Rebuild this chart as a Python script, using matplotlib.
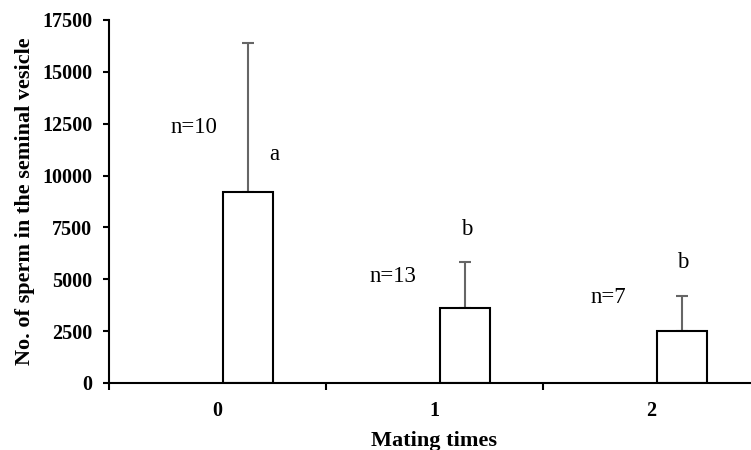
import matplotlib
matplotlib.use("Agg")
import matplotlib.pyplot as plt
import numpy as np

categories = ["0", "1", "2"]
means = [9200, 3600, 2500]
err_up = [7200, 2230, 1710]
n_labels = ["n=10", "n=13", "n=7"]
n_pos = [(-0.11, 12300), (0.81, 5110), (1.80, 4100)]
letters = ["a", "b", "b"]
letter_pos = [(0.26, 11000), (1.15, 7420), (2.145, 5830)]
yticks = [0, 2500, 5000, 7500, 10000, 12500, 15000, 17500]

plt.rcParams['font.family'] = ['Liberation Serif', 'DejaVu Serif']

fig = plt.figure(figsize=(7.51, 4.5), dpi=100)
ax = fig.add_axes([0.1451, 0.1489, 0.8668, 0.8067])

x = np.arange(len(categories))
offset = 0.14
width = 0.23
ax.bar(x + offset, means, width=width, color="white", edgecolor="black", linewidth=1.5, zorder=2)
ax.errorbar(x + offset, means, yerr=[np.zeros(len(means)), err_up], fmt="none",
            ecolor="#666666", elinewidth=1.5, capsize=4, capthick=1.5, zorder=1)

for (tx, ty), s in zip(n_pos, n_labels):
    ax.text(tx, ty, s, ha="center", va="center", fontsize=16.5)
for (tx, ty), s in zip(letter_pos, letters):
    ax.text(tx, ty, s, ha="center", va="center", fontsize=16.5)

ax.set_xlim(-0.5, 2.5)
ax.set_ylim(0, 17500)
ax.set_yticks(yticks)
ax.set_yticklabels([str(v) for v in yticks], fontsize=14.5, fontweight="bold")
ax.set_xticks(x)
ax.set_xticklabels(categories, fontsize=14.5, fontweight="bold")
ax.set_xticks([-0.5, 0.5, 1.5, 2.5], minor=True)
ax.tick_params(axis="x", which="major", length=0, pad=13)
ax.tick_params(axis="x", which="minor", length=5, width=1.5, direction="out")
ax.tick_params(axis="y", length=4, width=1.5, pad=8)

for s in ["top", "right"]:
    ax.spines[s].set_visible(False)
for s in ["left", "bottom"]:
    ax.spines[s].set_linewidth(1.5)

ax.set_ylabel("No. of sperm in the seminal vesicle", fontsize=16, fontweight="bold", labelpad=5)
ax.set_xlabel("Mating times", fontsize=16, fontweight="bold", labelpad=7)

fig.savefig("out.png", dpi=100)
